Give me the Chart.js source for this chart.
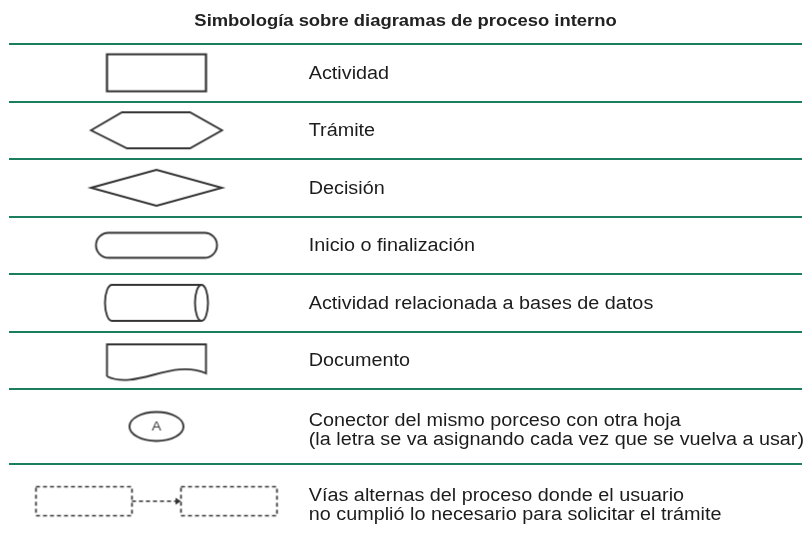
<!DOCTYPE html>
<html>
<head>
<meta charset="utf-8">
<script src="https://cdn.jsdelivr.net/npm/chart.js@4.4.1/dist/chart.umd.min.js"></script>
<style>
  html, body { margin: 0; padding: 0; background: #ffffff; }
  #wrap { width: 807px; height: 535px; }
</style>
</head>
<body>
<div id="wrap"><canvas id="symbol-chart" width="807" height="535"></canvas></div>
<script>
const chartTitle = 'Simbología sobre diagramas de proceso interno';
const symbols = ['actividad', 'tramite', 'decision', 'terminal', 'basedatos', 'documento', 'conector', 'alterna'];
const descriptions = [
    ['Actividad'],
    ['Trámite'],
    ['Decisión'],
    ['Inicio o finalización'],
    ['Actividad relacionada a bases de datos'],
    ['Documento'],
    ['Conector del mismo porceso con otra hoja', '(la letra se va asignando cada vez que se vuelva a usar)'],
    ['Vías alternas del proceso donde el usuario', 'no cumplió lo necesario para solicitar el trámite']
];
const connectorLetter = 'A';

// layout / style
const SYMBOL_COL = 18.6;   // percent of table width
const TEXT_COL = 37.8;
const STRETCH = 1.1;       // reference text is drawn a bit wide
const LINE_GREEN = '#1b7f5f';
const INK = '#333333';
const TEXT_INK = '#1c1c1c';

// rows with two lines of text are taller
const rowUnits = descriptions.map(lines => 1 + 0.3 * (lines.length - 1));
const boundaries = [0];
rowUnits.forEach(u => boundaries.push(boundaries[boundaries.length - 1] + u));
const totalUnits = boundaries[boundaries.length - 1];
const rowCenters = rowUnits.map((u, i) => boundaries[i] + u / 2);
// the picture is cropped a little before the end of the last row
const visibleMax = totalUnits - 0.15;

function makeSymbol(kind) {
    let w = kind === 'alterna' ? 252 : 140;
    let h = 50;
    let c = document.createElement('canvas');
    c.width = w;
    c.height = h;
    let g = c.getContext('2d');
    g.translate(w / 2, h / 2);
    g.strokeStyle = INK;
    g.lineWidth = 1.9;
    g.beginPath();
    switch (kind) {
        case 'actividad':
            g.lineWidth = 2.2;
            g.rect(-49.5, -18.5, 99, 37);
            break;
        case 'tramite':
            g.moveTo(-65.5, 0);
            g.lineTo(-34.5, -18);
            g.lineTo(33.5, -18);
            g.lineTo(65.5, 0);
            g.lineTo(33.5, 18);
            g.lineTo(-29.5, 18);
            g.closePath();
            break;
        case 'decision':
            g.moveTo(-65.5, 0);
            g.lineTo(0, -18);
            g.lineTo(65.5, 0);
            g.lineTo(0, 18);
            g.closePath();
            break;
        case 'terminal':
            g.roundRect(-60.5, -12.5, 121, 25, 12.5);
            break;
        case 'basedatos':
            g.moveTo(-44.5, -18);
            g.lineTo(45, -18);
            g.moveTo(-44.5, 18);
            g.lineTo(45, 18);
            g.moveTo(-44.5, -18);
            g.ellipse(-44.5, 0, 7, 18, 0, -Math.PI / 2, Math.PI / 2, true);
            g.moveTo(51.5, 0);
            g.ellipse(45, 0, 6.5, 18, 0, 0, Math.PI * 2);
            break;
        case 'documento':
            g.moveTo(-49.5, 16);
            g.lineTo(-49.5, -16);
            g.lineTo(49.5, -16);
            g.lineTo(49.5, 13);
            g.bezierCurveTo(15, -2, -20, 30, -49.5, 16);
            break;
        case 'conector':
            g.ellipse(0, 0, 27, 14.5, 0, 0, Math.PI * 2);
            break;
        case 'alterna':
            g.lineWidth = 1.7;
            g.setLineDash([4, 3]);
            g.rect(-120.5, -14.5, 96, 29);
            g.rect(24.5, -14.5, 96, 29);
            g.moveTo(-24.5, 0);
            g.lineTo(20, 0);
            break;
    }
    g.stroke();
    if (kind === 'alterna') {
        g.setLineDash([]);
        g.fillStyle = INK;
        g.beginPath();
        g.moveTo(19, -3.5);
        g.lineTo(24.5, 0);
        g.lineTo(19, 3.5);
        g.closePath();
        g.fill();
    }
    if (kind === 'conector') {
        g.save();
        g.scale(1.1, 1);
        g.fillStyle = '#3a3a3a';
        g.font = '13px "Liberation Sans", Arial, sans-serif';
        g.textAlign = 'center';
        g.textBaseline = 'middle';
        g.fillText(connectorLetter, 0, 0.5);
        g.restore();
    }
    return c;
}

// writes the title and the description column next to each symbol
const textPlugin = {
    id: 'tableText',
    afterDraw(chart) {
        let ctx = chart.ctx;
        let area = chart.chartArea;
        let xs = chart.scales.x;
        let ys = chart.scales.y;

        ctx.save();
        ctx.fillStyle = '#222222';
        ctx.font = 'bold 16px "Liberation Sans", Arial, sans-serif';
        ctx.textAlign = 'center';
        ctx.textBaseline = 'alphabetic';
        ctx.translate((area.left + area.right) / 2, area.top - 18);
        ctx.scale(1.15, 1);
        ctx.fillText(chartTitle, 0, 0);
        ctx.restore();

        ctx.save();
        ctx.fillStyle = TEXT_INK;
        ctx.font = '18px "Liberation Sans", Arial, sans-serif';
        ctx.textAlign = 'left';
        ctx.textBaseline = 'middle';
        let lineH = 19;
        descriptions.forEach((lines, i) => {
            let x = xs.getPixelForValue(TEXT_COL);
            let y = ys.getPixelForValue(rowCenters[i]);
            let first = y - (lines.length - 1) * lineH / 2 + (lines.length === 1 ? 1 : 4);
            lines.forEach((line, j) => {
                ctx.save();
                ctx.translate(x, first + j * lineH);
                ctx.scale(STRETCH, 1);
                ctx.fillText(line, 0, 0);
                ctx.restore();
            });
        });
        ctx.restore();
    }
};

let ctx = document.getElementById('symbol-chart').getContext('2d');
window.symbolChart = new Chart(ctx, {
    type: 'scatter',
    data: {
        datasets: [{
            label: 'Símbolos',
            data: symbols.map((s, i) => ({ x: SYMBOL_COL, y: rowCenters[i] })),
            pointStyle: symbols.map(makeSymbol),
            pointRadius: 4,
            pointHoverRadius: 4
        }]
    },
    options: {
        responsive: false,
        animation: false,
        events: [],
        layout: {
            padding: { top: 44, left: 9, right: 0, bottom: 0 }
        },
        plugins: {
            legend: { display: false },
            tooltip: { enabled: false },
            title: { display: false }
        },
        scales: {
            x: {
                type: 'linear',
                min: 0,
                max: 100,
                display: false
            },
            y: {
                type: 'linear',
                reverse: true,
                min: 0,
                max: visibleMax,
                afterBuildTicks: scale => {
                    scale.ticks = boundaries.filter(v => v < visibleMax).map(v => ({ value: v }));
                },
                ticks: { display: false },
                grid: {
                    drawTicks: false,
                    lineWidth: 2,
                    color: LINE_GREEN
                },
                border: { display: false }
            }
        }
    },
    plugins: [textPlugin]
});
</script>
</body>
</html>
